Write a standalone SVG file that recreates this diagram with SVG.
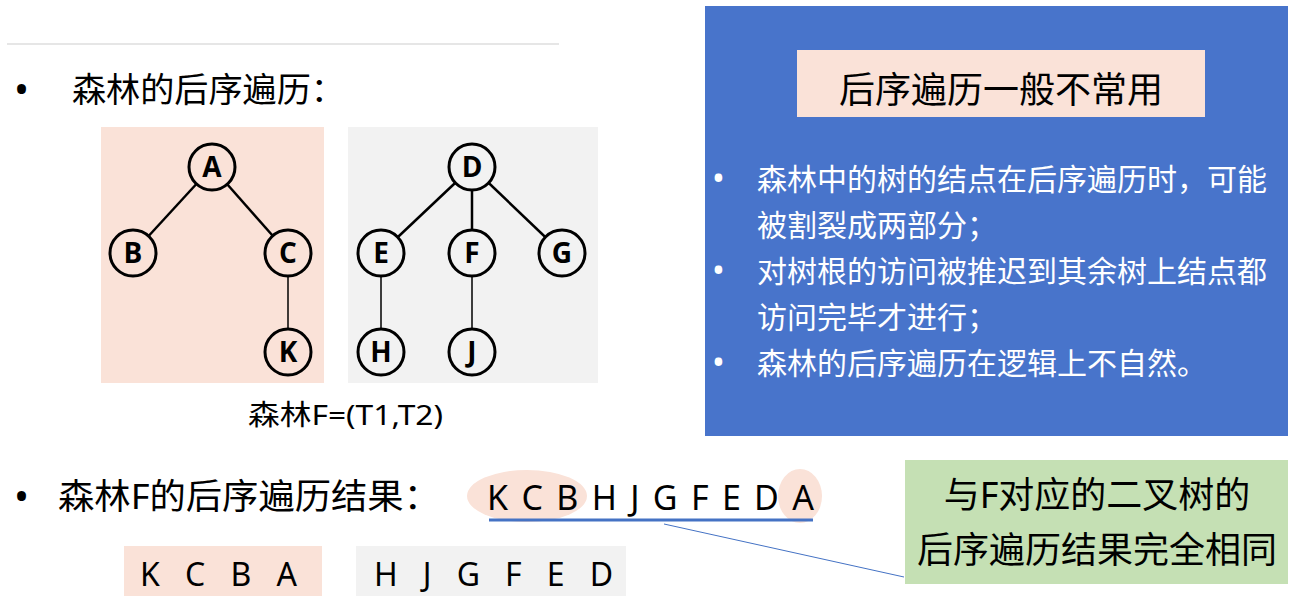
<svg xmlns="http://www.w3.org/2000/svg" width="1295" height="609" viewBox="0 0 1295 609">
<style>
.t{font-family:"Noto Sans","Noto Sans CJK SC",sans-serif;fill:#000}
.w{fill:#fff}
.n{font-family:"Open Sans","Noto Sans",sans-serif;font-weight:bold;font-size:28px;text-anchor:middle;fill:#000}
.c{stroke:#000;stroke-width:3}
.e{stroke:#000;stroke-width:2.5}
.e2{stroke:#000;stroke-width:1.5}
.pk{fill:#fae2d8}
.gy{fill:#f2f2f2}
</style>
<rect width="1295" height="609" fill="#fff"/>
<line x1="7" y1="44" x2="559" y2="44" stroke="#e6e6e6" stroke-width="2"/>

<g id="heading1">
<text class="t" x="14" y="104" font-size="40">•</text>
<text class="t" x="72" y="102" font-size="34" textLength="273" lengthAdjust="spacingAndGlyphs">森林的后序遍历：</text>
</g>

<rect x="101" y="127" width="223" height="256" class="pk"/>
<rect x="348" y="127" width="250" height="256" class="gy"/>

<g id="connectors">
<line class="e" x1="212" y1="167" x2="133" y2="253"/>
<line class="e" x1="212" y1="167" x2="288" y2="253"/>
<line class="e2" x1="288" y1="253" x2="288" y2="352"/>
<line class="e" x1="472" y1="167" x2="381" y2="253"/>
<line class="e" x1="472" y1="167" x2="472" y2="253"/>
<line class="e" x1="472" y1="167" x2="562" y2="253"/>
<line class="e2" x1="381" y1="253" x2="381" y2="352"/>
<line class="e2" x1="472" y1="253" x2="472" y2="352"/>
<line x1="664" y1="524" x2="904" y2="577" stroke="#4472c4" stroke-width="1"/>
</g>

<g id="node-A"><circle cx="212" cy="167" r="23" class="c pk"/><text class="n" x="212" y="177">A</text></g>
<g id="node-B"><circle cx="133" cy="253" r="23" class="c pk"/><text class="n" x="133" y="263">B</text></g>
<g id="node-C"><circle cx="288" cy="253" r="23" class="c pk"/><text class="n" x="288" y="263">C</text></g>
<g id="node-K"><circle cx="288" cy="352" r="23" class="c pk"/><text class="n" x="288" y="362">K</text></g>
<g id="node-D"><circle cx="472" cy="167" r="23" class="c gy"/><text class="n" x="472" y="177">D</text></g>
<g id="node-E"><circle cx="381" cy="253" r="23" class="c gy"/><text class="n" x="381" y="263">E</text></g>
<g id="node-F"><circle cx="472" cy="253" r="23" class="c gy"/><text class="n" x="472" y="263">F</text></g>
<g id="node-G"><circle cx="562" cy="253" r="23" class="c gy"/><text class="n" x="562" y="263">G</text></g>
<g id="node-H"><circle cx="381" cy="352" r="23" class="c gy"/><text class="n" x="381" y="362">H</text></g>
<g id="node-J"><circle cx="472" cy="352" r="23" class="c gy"/><text class="n" x="472" y="362">J</text></g>

<g id="caption"><text class="t" x="248" y="425" font-size="28" textLength="195" lengthAdjust="spacingAndGlyphs">森林F=(T1,T2)</text></g>

<g id="heading2">
<text class="t" x="14" y="511" font-size="40">•</text>
<text class="t" x="58" y="509" font-size="35" textLength="382" lengthAdjust="spacingAndGlyphs">森林F的后序遍历结果：</text>
</g>

<g id="sequence">
<ellipse cx="527" cy="496" rx="60" ry="26" fill="#fae2d8"/>
<ellipse cx="800" cy="496" rx="22" ry="27" fill="#fae2d8"/>
<line x1="489" y1="520" x2="813" y2="520" stroke="#4472c4" stroke-width="3"/>
<text class="t" x="487" y="510" font-size="34" textLength="327" lengthAdjust="spacing">K C B H J G F E D A</text>
</g>

<g id="split-left">
<rect x="124" y="546" width="198" height="50" class="pk"/>
<text class="t" x="140" y="586" font-size="32" textLength="157" lengthAdjust="spacing">K C B A</text>
</g>
<g id="split-right">
<rect x="356" y="546" width="270" height="50" class="gy"/>
<text class="t" x="374" y="586" font-size="32" textLength="239" lengthAdjust="spacing">H J G F E D</text>
</g>

<g id="note-box">
<rect x="705" y="6" width="583" height="430" fill="#4874cb"/>
<rect x="797" y="50" width="408" height="67" class="pk"/>
<text class="t" x="1001" y="103" font-size="36" text-anchor="middle">后序遍历一般不常用</text>
<text class="t w" x="712" y="190" font-size="34">•</text>
<text class="t w" x="757" y="190" font-size="30">森林中的树的结点在后序遍历时，可能</text>
<text class="t w" x="757" y="236" font-size="30">被割裂成两部分；</text>
<text class="t w" x="712" y="282" font-size="34">•</text>
<text class="t w" x="757" y="282" font-size="30">对树根的访问被推迟到其余树上结点都</text>
<text class="t w" x="757" y="328" font-size="30">访问完毕才进行；</text>
<text class="t w" x="712" y="374" font-size="34">•</text>
<text class="t w" x="757" y="374" font-size="30">森林的后序遍历在逻辑上不自然。</text>
</g>

<g id="green-box">
<rect x="905" y="460" width="383" height="124" fill="#c5e0b4"/>
<text class="t" x="1097" y="508" font-size="36" text-anchor="middle">与F对应的二叉树的</text>
<text class="t" x="1097" y="563" font-size="36" text-anchor="middle">后序遍历结果完全相同</text>
</g>
</svg>
